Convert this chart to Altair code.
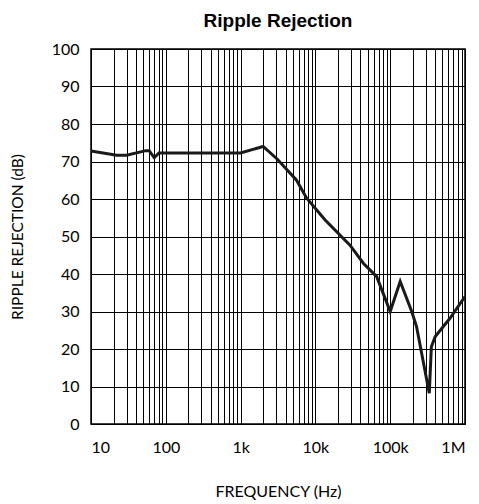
import altair as alt
import pandas as pd

freq = [10, 22, 30, 54, 60, 70, 81, 1000, 2000, 3100, 5600, 7600, 13500, 29000, 44000, 66000, 100000, 136000, 194000, 225000, 333000, 355000, 400000, 630000, 1000000]
rej = [72.8, 71.7, 71.7, 72.9, 72.9, 71.0, 72.3, 72.3, 74.0, 70.6, 65.0, 60.3, 54.4, 47.7, 42.8, 39.3, 30.0, 38.0, 30.0, 26.0, 8.2, 20.6, 23.3, 28.2, 34.0]

decades = [10, 100, 1000, 10000, 100000, 1000000]
decade_labels = ["10", "100", "1k", "10k", "100k", "1M"]
grid_x = [m * d for d in decades[:-1] for m in range(1, 10)] + [1000000]
grid_y = list(range(0, 101, 10))

df = pd.DataFrame({"f": freq, "r": rej})

label_expr = " : ".join(
    f"datum.value == {v} ? '{l}'" for v, l in zip(decades, decade_labels)
) + " : ''"

chart = alt.Chart(df).mark_line(color="#1a1a1a", strokeWidth=3).encode(
    x=alt.X("f:Q",
            scale=alt.Scale(type="log", domain=[10, 1000000], nice=False),
            axis=alt.Axis(values=grid_x, labelExpr=label_expr, labelOverlap=False,
                          grid=True, gridColor="black", gridOpacity=1, gridWidth=1,
                          ticks=False, domain=False, labelPadding=15,
                          labelFont="Lato", labelFontSize=16, labelColor="black",
                          title="FREQUENCY (Hz)", titleFont="Lato", titleFontSize=16,
                          titleFontWeight="normal", titleColor="black", titlePadding=28)),
    y=alt.Y("r:Q",
            scale=alt.Scale(domain=[0, 100], nice=False),
            axis=alt.Axis(values=grid_y, grid=True, gridColor="black", gridOpacity=1,
                          gridWidth=1, ticks=False, domain=False, labelPadding=12,
                          labelFont="Lato", labelFontSize=16, labelColor="black",
                          title="RIPPLE REJECTION (dB)", titleFont="Lato", titleFontSize=15.5,
                          titleFontWeight="normal", titleColor="black", titlePadding=26)),
).properties(
    width=374, height=375,
    autosize=alt.AutoSizeParams(type="none"),
    padding={"left": 83, "top": 41, "right": 6, "bottom": 80},
    title=alt.TitleParams("Ripple Rejection", font="Liberation Sans", fontSize=19,
                          fontWeight="bold", color="black", offset=10)
).configure_view(stroke="black", strokeWidth=1.5)

chart.save("out.html", embed_options={"renderer": "svg", "actions": False})
